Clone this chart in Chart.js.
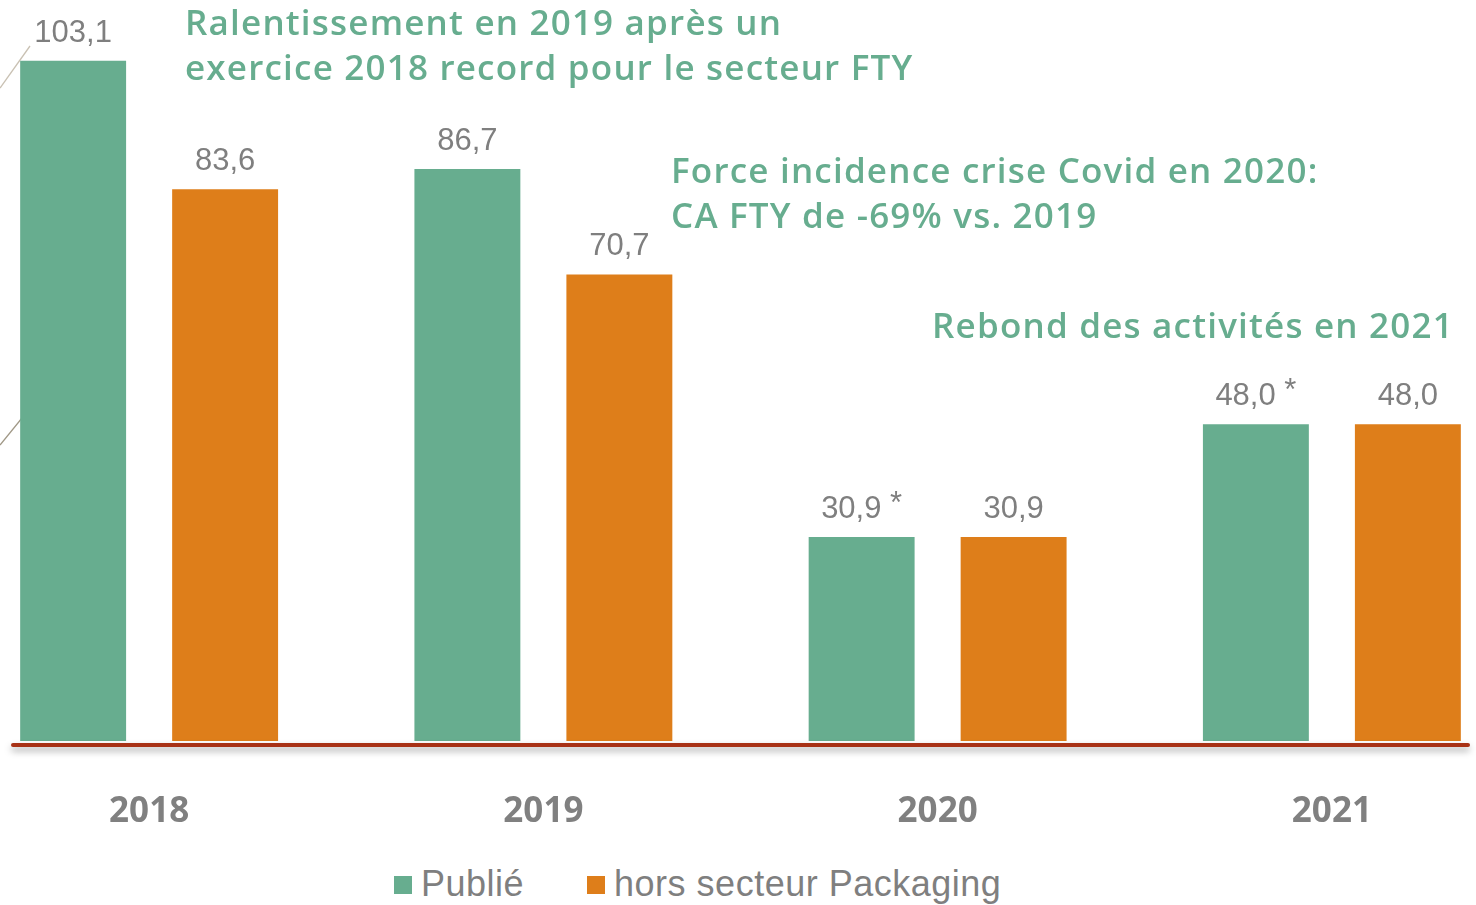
<!DOCTYPE html>
<html>
<head>
<meta charset="utf-8">
<script src="https://cdn.jsdelivr.net/npm/chart.js@4.4.1/dist/chart.umd.min.js"></script>
<style>
  html, body { margin: 0; padding: 0; background: #fff; }
  body { width: 1476px; height: 905px; overflow: hidden; position: relative; }
  #deco { position: absolute; left: 0; top: 0; }
  #wrap { position: absolute; left: -48px; top: 0; width: 1577px; height: 841px; }
  .note { position: absolute; font-family: "Open Sans", sans-serif; font-weight: 600; font-size: 35px;
          line-height: 45px; letter-spacing: 1.2px; color: #67ad8f; white-space: nowrap; }
  #legend { position: absolute; left: 394px; top: 864px; display: flex; font-family: "Liberation Sans", Arial, sans-serif;
            font-size: 36px; letter-spacing: 0.5px; line-height: 40px; color: #7f7f7f; }
  .item { display: flex; align-items: center; margin-right: 63px; }
  .box { width: 18px; height: 18px; margin-right: 9px; margin-top: 2px; }
</style>
</head>
<body>
<svg id="deco" width="60" height="500">
  <line x1="0" y1="88" x2="30" y2="46" stroke="#c9c1b3" stroke-width="1.3"/>
  <line x1="0" y1="445" x2="22" y2="418" stroke="#a09886" stroke-width="1.3"/>
</svg>
<div id="wrap"><canvas id="chart"></canvas></div>

<div class="note" style="left:185px; top:-1px;">Ralentissement en 2019 après un<br>exercice 2018 record pour le secteur FTY</div>
<div class="note" style="left:671px; top:147px;">Force incidence crise Covid en 2020:<br>CA FTY de -69% vs. 2019</div>
<div class="note" style="left:932px; top:302px;">Rebond des activités en 2021</div>

<div id="legend"></div>

<script>
const categories = ["2018", "2019", "2020", "2021"];
const publie = [103.1, 86.7, 30.9, 48.0];
const horsPackaging = [83.6, 70.7, 30.9, 48.0];
const publieNotes = ["", "", "*", "*"];
const horsNotes = ["", "", "", ""];

const seriesNames = ["Publié", "hors secteur Packaging"];
const seriesColors = ["#67ad8f", "#de7e1a"];

const labelGrey = "#7f7f7f";

function frenchNumber(v){
  return v.toFixed(1).replace(".", ",");
}

// value labels on top of the bars, with the raised asterisk where needed
const valueLabels = {
  id: "valueLabels",
  afterDatasetsDraw(chart){
    const ctx = chart.ctx;
    const notes = [publieNotes, horsNotes];
    ctx.save();
    ctx.fillStyle = labelGrey;
    ctx.font = "31px 'Liberation Sans', Arial, sans-serif";
    ctx.textBaseline = "alphabetic";
    ctx.textAlign = "left";
    chart.data.datasets.forEach((ds, di) => {
      const meta = chart.getDatasetMeta(di);
      meta.data.forEach((bar, i) => {
        const text = frenchNumber(ds.data[i]);
        const note = notes[di][i];
        const y = bar.y - 19;
        if (note){
          const w1 = ctx.measureText(text + " ").width;
          const w2 = ctx.measureText(note).width;
          const x0 = bar.x - (w1 + w2) / 2;
          ctx.fillText(text, x0, y);
          ctx.fillText(note, x0 + w1, y - 5);
        } else {
          const w = ctx.measureText(text).width;
          ctx.fillText(text, bar.x - w / 2, y);
        }
      });
    });
    ctx.restore();
  }
};

// dark red base line with a soft shadow
const baseLine = {
  id: "baseLine",
  afterDatasetsDraw(chart){
    const ctx = chart.ctx;
    const area = chart.chartArea;
    const y = chart.scales.y.getPixelForValue(0) + 4;
    ctx.save();
    ctx.shadowColor = "rgba(0,0,0,0.35)";
    ctx.shadowBlur = 7;
    ctx.shadowOffsetY = 4;
    ctx.strokeStyle = "#a83216";
    ctx.lineWidth = 4;
    ctx.lineCap = "round";
    ctx.beginPath();
    ctx.moveTo(area.left + 61, y);
    ctx.lineTo(area.right - 61, y);
    ctx.stroke();
    ctx.restore();
  }
};

new Chart("chart", {
  type: "bar",
  data: {
    labels: categories,
    datasets: [
      { label: seriesNames[0], data: publie, backgroundColor: seriesColors[0] },
      { label: seriesNames[1], data: horsPackaging, backgroundColor: seriesColors[1] }
    ]
  },
  options: {
    responsive: true,
    maintainAspectRatio: false,
    animation: false,
    events: [],
    categoryPercentage: 0.771,
    barPercentage: 0.697,
    layout: { padding: 0 },
    plugins: {
      legend: { display: false },
      tooltip: { enabled: false }
    },
    scales: {
      x: {
        grid: { display: false, drawTicks: false },
        border: { display: false },
        ticks: {
          color: "#808080",
          padding: 50,
          font: { family: "'Open Sans', sans-serif", size: 35, weight: "bold" }
        },
        afterFit: (scale) => { scale.height = 100; }
      },
      y: {
        display: false,
        min: 0,
        max: 112.3
      }
    }
  },
  plugins: [valueLabels, baseLine]
});

let legendHtml = "";
seriesNames.forEach((name, i) => {
  legendHtml += `<div class="item"><span class="box" style="background:${seriesColors[i]}"></span>${name}</div>`;
});
document.getElementById("legend").innerHTML = legendHtml;
</script>
</body>
</html>
